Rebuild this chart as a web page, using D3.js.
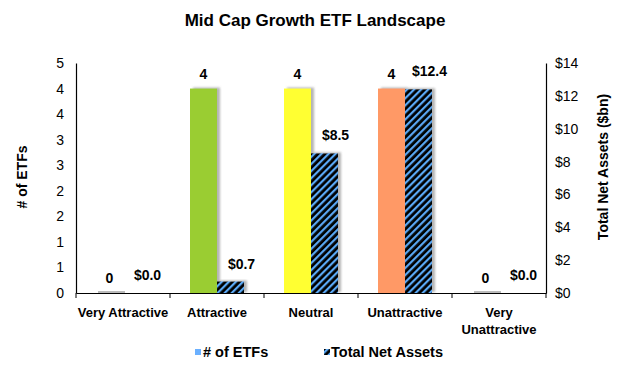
<!DOCTYPE html>
<html><head><meta charset="utf-8">
<script src="https://cdn.jsdelivr.net/npm/d3@7"></script>
<style>
body{margin:0;background:#fff;}
text{font-family:"Liberation Sans",Arial,sans-serif;fill:#000;}
</style></head>
<body><svg id="c" width="630" height="367"></svg>
<script>
const categories = ["Very Attractive","Attractive","Neutral","Unattractive","Very Unattractive"];
const etfCounts = [0,4,4,4,0];
const netAssets = [0.0,0.7,8.5,12.4,0.0];
const barColors = ["#9ACD32","#9ACD32","#FFFF33","#FF9966","#9ACD32"];
const leftTicks = [0,0.5,1,1.5,2,2.5,3,3.5,4,4.5];
const rightTicks = [0,2,4,6,8,10,12,14];

const svg = d3.select("#c");
const M = {l:76, r:546, t:63, b:293};

const defs = svg.append("defs");
const pat = defs.append("pattern").attr("id","hatch").attr("patternUnits","userSpaceOnUse")
  .attr("width",5).attr("height",5).attr("patternTransform","rotate(45)");
pat.append("rect").attr("width",5).attr("height",5).attr("fill","#000");
pat.append("rect").attr("x",0).attr("width",2.2).attr("height",5).attr("fill","#5AA8F5");
const f = defs.append("filter").attr("id","sh").attr("x","-20%").attr("y","-20%").attr("width","150%").attr("height","140%");
f.append("feDropShadow").attr("dx",3).attr("dy",-1).attr("stdDeviation",1.3).attr("flood-color","#777").attr("flood-opacity",0.55);

const x = d3.scaleBand().domain(categories).range([M.l,M.r]).paddingInner(0).paddingOuter(0);
const yL = d3.scaleLinear().domain([0,4.5]).range([M.b,M.t]);
const yR = d3.scaleLinear().domain([0,14]).range([M.b,M.t]);
const bw = 27;

// title
svg.append("text").attr("x",315).attr("y",26).attr("text-anchor","middle")
  .attr("font-size",17).attr("font-weight","bold").text("Mid Cap Growth ETF Landscape");

// axes
const axL = svg.append("g").attr("transform",`translate(${M.l},0)`)
  .call(d3.axisLeft(yL).tickValues(leftTicks).tickSize(0).tickPadding(12).tickFormat(d=>String(Math.round(d+1e-9))));
const axR = svg.append("g").attr("transform",`translate(${M.r},0)`)
  .call(d3.axisRight(yR).tickValues(rightTicks).tickSize(0).tickPadding(9).tickFormat(d=>"$"+d));
[axL,axR].forEach(a=>{a.select(".domain").attr("stroke","#000").attr("stroke-width",1.2);
  a.selectAll("text").attr("font-size",14).attr("font-family","'Liberation Sans',Arial,sans-serif");});

// bars
const g = svg.append("g");
categories.forEach((c,i)=>{
  const cx = x(c)+x.bandwidth()/2;
  const x1 = cx-bw, x2 = cx;
  const h1 = M.b-yL(etfCounts[i]), h2 = M.b-yR(netAssets[i]);
  if(etfCounts[i]>0){
    g.append("rect").attr("x",x1).attr("y",yL(etfCounts[i])).attr("width",bw).attr("height",h1)
      .attr("fill",barColors[i]).attr("filter","url(#sh)");
  } else {
    g.append("rect").attr("x",x1+2).attr("y",M.b-2).attr("width",bw).attr("height",2).attr("fill","#bbb");
  }
  if(netAssets[i]>0){
    g.append("rect").attr("x",x2).attr("y",yR(netAssets[i])).attr("width",bw).attr("height",h2)
      .attr("fill","url(#hatch)").attr("filter","url(#sh)");
  }
  g.append("text").attr("x",x1+bw/2).attr("y",yL(etfCounts[i])-10).attr("text-anchor","middle")
    .attr("font-size",14).attr("font-weight","bold").text(d3.format("d")(etfCounts[i]));
  g.append("text").attr("x",x2+bw/2+11).attr("y",yR(netAssets[i])-13).attr("text-anchor","middle")
    .attr("font-size",14).attr("font-weight","bold").text("$"+netAssets[i].toFixed(1));
});

// x axis
const axB = svg.append("g").attr("transform",`translate(0,${M.b})`)
  .call(d3.axisBottom(x).tickSize(0).tickFormat(""));
axB.select(".domain").attr("stroke","#000").attr("stroke-width",1.2);
d3.range(categories.length+1).forEach(k=>{
  const xx = M.l + k*x.bandwidth();
  axB.append("line").attr("x1",xx).attr("x2",xx).attr("y1",0).attr("y2",5).attr("stroke","#000");
});
categories.forEach(c=>{
  const cx = x(c)+x.bandwidth()/2;
  const words = c==="Very Unattractive" ? ["Very","Unattractive"] : [c];
  words.forEach((w,j)=>{
    svg.append("text").attr("x",cx).attr("y",M.b+24+j*17).attr("text-anchor","middle")
      .attr("font-size",13).attr("font-weight","bold").text(w);
  });
});

// axis titles
svg.append("text").attr("transform","translate(27,177) rotate(-90)").attr("text-anchor","middle")
  .attr("font-size",14).attr("font-weight","bold").text("# of ETFs");
svg.append("text").attr("transform","translate(608,167) rotate(-90)").attr("text-anchor","middle")
  .attr("font-size",14).attr("font-weight","bold").text("Total Net Assets ($bn)");

// legend
const lg = svg.append("g").attr("transform","translate(0,357)");
lg.append("rect").attr("x",195).attr("y",-8).attr("width",6).attr("height",6).attr("fill","#6AB0FF");
lg.append("text").attr("x",203).attr("y",0).attr("font-size",14.5).attr("font-weight","bold").text("# of ETFs");
lg.append("rect").attr("x",324).attr("y",-8).attr("width",6).attr("height",6).attr("fill","url(#hatch)");
lg.append("text").attr("x",331).attr("y",0).attr("font-size",14.5).attr("font-weight","bold").text("Total Net Assets");
</script></body></html>
